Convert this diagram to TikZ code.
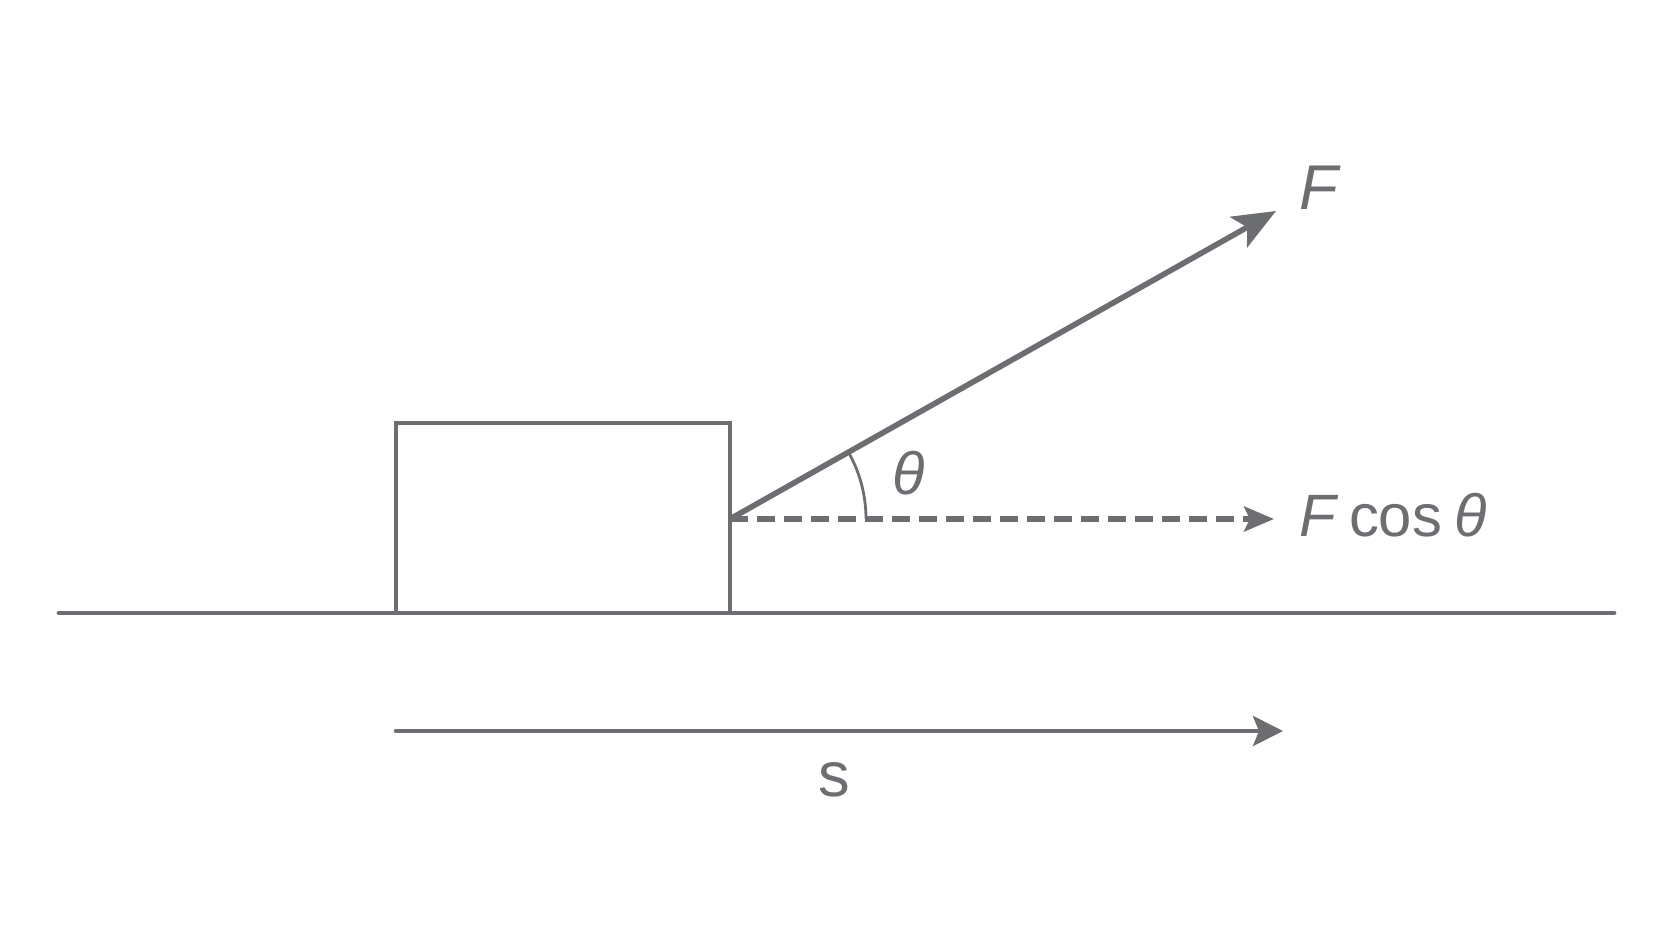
\documentclass[tikz,border=0pt]{standalone}
\usepackage{fontspec}
\setmainfont{Liberation Sans}
\usetikzlibrary{arrows.meta}
\definecolor{diagray}{HTML}{6D6E71}

\begin{document}
\begin{tikzpicture}[diagray, every node/.style={font=\fontsize{18}{22}\selectfont}]
        \useasboundingbox (0,0) rectangle (16.72,9.41);
        \coordinate (gl) at (0.59, 3.28);
        \coordinate (gr) at (16.14, 3.28);
        \coordinate (bl) at (3.96, 3.28);
        \coordinate (bt) at (7.30, 5.18);
        \coordinate (o) at (7.30, 4.22);
        \coordinate (f) at (12.76, 7.30);
        \coordinate (h) at (12.74, 4.22);
        \coordinate (sl) at (3.96, 2.10);
        \coordinate (sr) at (12.83, 2.10);
        \draw[line width=1.35pt, line cap=round] (gl) -- (gr);
        \draw[line width=1pt] (bl) rectangle (bt);
        \draw[-{Stealth[length=4.3mm, width=3.5mm, inset=1mm]}, line width=1.6pt] (o) -- (f);
        \draw[-{Stealth[length=3mm, width=2.5mm, inset=0.6mm]}, line width=1.5pt, dash pattern=on 1.75mm off 0.95mm] (o) -- (h);
        \draw[line width=0.8pt] (o) ++(1.36, 0) arc (0:29.4:1.36);
        \draw[-{Stealth[length=3mm, width=3mm, inset=0.6mm]}, line width=1.3pt, line cap=round] (sl) -- (sr);
        \node (flabel) at (13.20, 7.53) {\textit{F}};
        \node (fcos) at (13.93, 4.26) {\fontsize{17}{20}\selectfont\textit{F}\hspace{3pt}cos\hspace{3.5pt}\textit{θ}};
        \node (theta) at (9.09, 4.68) {\fontsize{17}{20}\selectfont\textit{θ}};
        \node (slabel) at (8.34, 1.61) {s};
      \end{tikzpicture}
\end{document}
